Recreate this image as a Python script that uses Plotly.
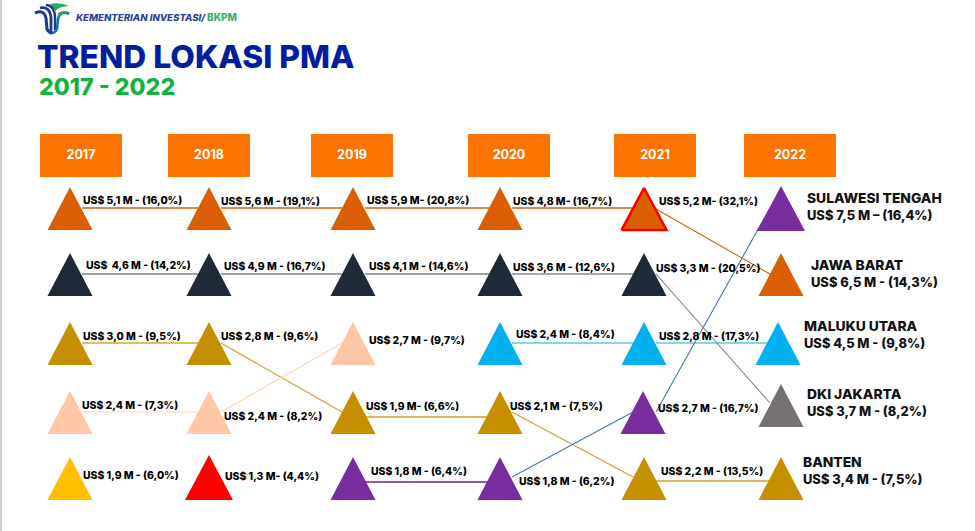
import plotly.graph_objects as go

# ---------- data ----------
years = ["2017", "2018", "2019", "2020", "2021", "2022"]
title = "TREND LOKASI PMA"
subtitle = "2017 - 2022"
brand_a = "KEMENTERIAN INVESTASI/"
brand_b = "BKPM"

# province (colour key) by rank for each year
colors_2017 = ["orange", "dark", "gold", "peach", "yellow"]
colors_2018 = ["orange", "dark", "gold", "peach", "red"]
colors_2019 = ["orange", "dark", "peach", "gold", "purple"]
colors_2020 = ["orange", "dark", "cyan", "gold", "purple"]
colors_2021 = ["orange", "dark", "cyan", "purple", "gold"]
colors_2022 = ["purple", "orange", "cyan", "gray", "gold"]

labels_2017 = ["US$ 5,1 M - (16,0%)", "US$  4,6 M - (14,2%)", "US$ 3,0 M - (9,5%)", "US$ 2,4 M - (7,3%)", "US$ 1,9 M - (6,0%)"]
labels_2018 = ["US$ 5,6 M - (19,1%)", "US$ 4,9 M - (16,7%)", "US$ 2,8 M - (9,6%)", "US$ 2,4 M - (8,2%)", "US$ 1,3 M- (4,4%)"]
labels_2019 = ["US$ 5,9 M- (20,8%)", "US$ 4,1 M - (14,6%)", "US$ 2,7 M - (9,7%)", "US$ 1,9 M- (6,6%)", "US$ 1,8 M - (6,4%)"]
labels_2020 = ["US$ 4,8 M- (16,7%)", "US$ 3,6 M - (12,6%)", "US$ 2,4 M - (8,4%)", "US$ 2,1 M - (7,5%)", "US$ 1,8 M - (6,2%)"]
labels_2021 = ["US$ 5,2 M- (32,1%)", "US$ 3,3 M - (20,5%)", "US$ 2,8 M - (17,3%)", "US$ 2,7 M - (16,7%)", "US$ 2,2 M - (13,5%)"]
names_2022 = ["SULAWESI TENGAH", "JAWA BARAT", "MALUKU UTARA", "DKI JAKARTA", "BANTEN"]
labels_2022 = ["US$ 7,5 M – (16,4%)", "US$ 6,5 M - (14,3%)", "US$ 4,5 M - (9,8%)", "US$ 3,7 M - (8,2%)", "US$ 3,4 M - (7,5%)"]

# ---------- styles / layout ----------
FONT = "Inter"
palette = dict(orange="#D95F02", dark="#1F2A38", gold="#C68F00", peach="#FFC6A8", yellow="#FFBF00",
               red="#FF0000", purple="#772D9E", cyan="#00B0F0", gray="#767171")

box_left = [40, 168, 311, 468, 614, 744]
box_right = [122, 250, 393, 550, 696, 836]
col_x = [[70, 70, 70, 70, 70], [209, 209, 209, 209, 209], [353, 353, 353, 353, 353],
         [500, 500, 500, 500, 500], [644, 644, 644, 643, 644], [781, 781, 778, 781, 781]]
apex_y = [[187, 253, 322, 391, 457], [187, 253, 322, 391, 455], [187, 253, 322, 391, 457],
          [187, 253, 322, 391, 457], [186, 253, 322, 391, 457], [186, 253, 322, 384, 457]]
tri_h = 43
tri_w = 45

label_x = [[83, 86, 83, 82, 83], [221, 224, 221, 224, 225], [367, 369, 369, 366, 371],
           [513, 513, 516, 510, 519], [659, 656, 659, 658, 661]]
label_y = [[201, 266, 337, 406, 476], [202, 267, 337, 417, 477], [201, 267, 341, 407, 472],
           [202, 268, 335, 407, 482], [202, 269, 337, 409, 472]]
name_x = [807, 811, 804, 807, 803]
name_y = [200, 267, 328, 396, 464]
value_y = [217, 284, 345, 413, 481]

# connector segments: (from-col, to-col, y0, y1, colour, width)
links = [
    (0, 1, 208, 208, "#D95F02", 1.3), (1, 2, 208, 208, "#D95F02", 1.3), (2, 3, 208, 208, "#D95F02", 1.3),
    (3, 4, 208, 208, "#D95F02", 1.3), (4, 5, 209, 274, "#D95F02", 1.1),
    (0, 1, 274, 274, "#7F7F7F", 1.3), (1, 2, 274, 274, "#7F7F7F", 1.3), (2, 3, 274, 274, "#7F7F7F", 1.3),
    (3, 4, 274, 274, "#8C8C8C", 1.3), (4, 5, 274, 403, "#7F7F7F", 1.1),
    (0, 1, 343, 343, "#D9A62E", 1.3), (1, 2, 343, 412, "#D0A030", 1.2),
    (0, 1, 412, 412, "#FFD3BE", 1.2), (1, 2, 412, 343, "#FFD3BE", 1.2),
    (2, 3, 417, 417, "#E0B860", 2.0), (3, 4, 412, 477, "#D0A030", 1.2), (4, 5, 481, 481, "#E0B860", 2.0),
    (3, 4, 343, 343, "#00B0F0", 1.2), (4, 5, 343, 343, "#00B0F0", 1.2),
    (2, 3, 482, 482, "#6A2394", 1.3), (3, 4, 477, 412, "#4472C4", 1.1), (4, 5, 412, 208, "#4472C4", 1.1),
]

all_colors = [colors_2017, colors_2018, colors_2019, colors_2020, colors_2021, colors_2022]
all_labels = [labels_2017, labels_2018, labels_2019, labels_2020, labels_2021]

fig = go.Figure()

for c0, c1, y0, y1, col, w in links:
    x0, x1 = col_x[c0][0] + 12, col_x[c1][0] - 11
    fig.add_trace(go.Scatter(x=[x0, x1], y=[y0, y1], mode="lines", line=dict(color=col, width=w),
                             hoverinfo="skip", showlegend=False))

for c, colors in enumerate(all_colors):
    for r, key in enumerate(colors):
        cx, top = col_x[c][r], apex_y[c][r]
        w, h = tri_w, tri_h
        if (c, r) == (1, 4):
            w, h = 48, 45
        if (c, r) == (5, 0):
            w, h = 48, 45
        line = dict(width=0, color=palette[key])
        if (c, r) == (4, 0):
            line = dict(width=2.5, color="#F40000")
            top += 2
            h = 42
        fig.add_trace(go.Scatter(
            x=[cx - w / 2, cx + w / 2, cx, cx - w / 2], y=[top + h, top + h, top, top + h],
            mode="lines", fill="toself", fillcolor=palette[key], line=line,
            hoverinfo="skip", showlegend=False))

# year headers
shapes = [dict(type="rect", x0=a, x1=b, y0=134, y1=177, fillcolor="#FF7300", line_width=0, layer="below")
          for a, b in zip(box_left, box_right)]
# strip at the far left
shapes.append(dict(type="rect", x0=0, x1=2, y0=0, y1=531, fillcolor="#CFCFCF", line_width=0, layer="below"))
# logo
for p, col, wd in [
    ("M35,13 Q44,9 46,18 L47,29 Q49,33 52,33", "#1B3A8C", 3.0),
    ("M40,8 Q50,6 51,18 L51,32", "#1B3A8C", 2.8),
    ("M46,5 Q55,5 55,18 L55,30", "#1B3A8C", 2.4),
    ("M69,14 Q60,10 58,19 L57,29 Q55,33 52,33", "#1B6FA0", 2.6),
]:
    shapes.append(dict(type="path", path=p, line=dict(color=col, width=wd), layer="below"))
shapes.append(dict(type="path", path="M50,4 Q60,2 69,6 Q59,6 54,12 Q55,7 50,4 Z",
                   fillcolor="#2FA65A", line_width=0, layer="below"))
shapes.append(dict(type="path", path="M58,13 Q64,9 71,13 Q64,12 58,17 Z",
                   fillcolor="#2FA65A", line_width=0, layer="below"))


def text(xs, ys, txts, size, color, pos="middle right", weight=700, style="normal"):
    fig.add_trace(go.Scatter(x=xs, y=ys, text=txts, mode="text", textposition=pos,
                             textfont=dict(family=FONT, size=size, color=color, weight=weight, style=style),
                             hoverinfo="skip", showlegend=False))


for c, labels in enumerate(all_labels):
    text(label_x[c], label_y[c], labels, 10.4, "#000000", weight=800)
text(name_x, name_y, names_2022, 13.8, "#111111", weight=800)
text(name_x, value_y, labels_2022, 12.9, "#111111", weight=800)
text([(a + b) / 2 for a, b in zip(box_left, box_right)], [155.5] * 6, years, 12.5, "#FFFFFF", pos="middle center")
text([37], [60], [title], 31.8, "#001E9E", weight=800)
text([39], [89], [subtitle], 23.2, "#10B43C", weight=800)
text([76], [18.5], [brand_a], 9.6, "#2B3F9E", weight=800, style="italic")
text([207], [18.5], [brand_b], 10, "#3DAE6A", weight=800)

fig.update_layout(
    width=975, height=531, autosize=False, margin=dict(l=0, r=0, t=0, b=0),
    paper_bgcolor="white", plot_bgcolor="white", shapes=shapes,
    xaxis=dict(range=[0, 975], visible=False, fixedrange=True),
    yaxis=dict(range=[531, 0], visible=False, fixedrange=True),
)
fig.write_html("out.html", config=dict(displayModeBar=False),
               post_script="document.body.style.margin='0';document.body.style.overflow='hidden';")
